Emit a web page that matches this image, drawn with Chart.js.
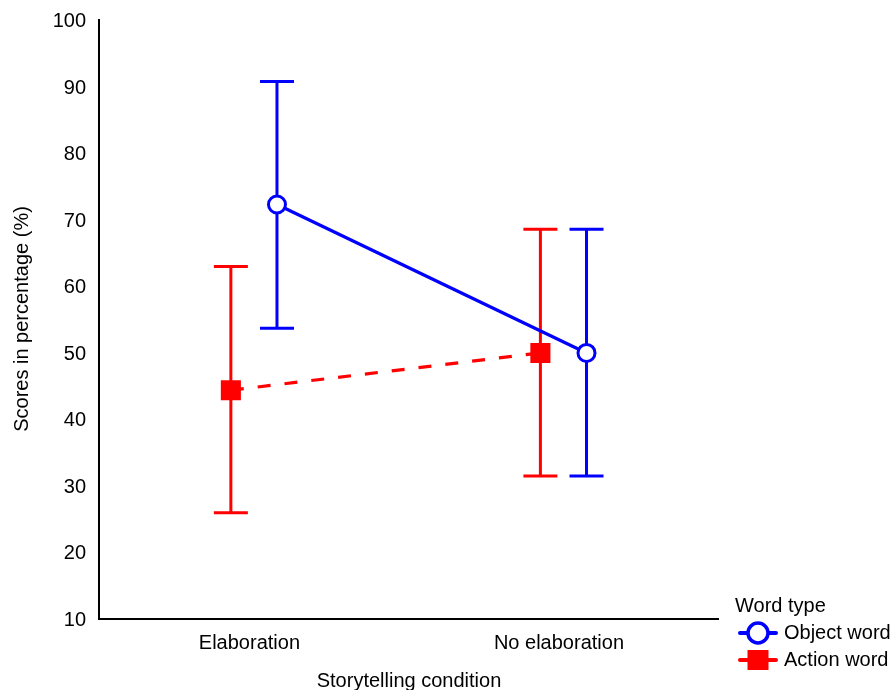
<!DOCTYPE html>
<html><head><meta charset="utf-8">
<script src="https://cdn.jsdelivr.net/npm/chart.js@4.4.1/dist/chart.umd.min.js"></script>
<style>html,body{margin:0;padding:0;background:#fff;}#wrap{width:893px;height:690px;}</style>
</head><body><div id="wrap"><canvas id="c" width="893" height="690"></canvas></div>
<script>
// ---- data ----
const categories = ['Elaboration', 'No elaboration'];
const seriesNames = ['Object word', 'Action word'];
const objectMean = [72.2, 49.9];
const objectLow  = [53.6, 31.4];
const objectHigh = [90.7, 68.5];
const actionMean = [44.3, 49.9];
const actionLow  = [25.9, 31.4];
const actionHigh = [62.9, 68.5];
const yTickValues = [10, 20, 30, 40, 50, 60, 70, 80, 90, 100];
const xAxisTitle = 'Storytelling condition';
const yAxisTitle = 'Scores in percentage (%)';
const legendTitle = 'Word type';

// ---- style ----
const BLUE = '#0000FF', RED = '#FF0000';
const DODGE = [0.089, -0.06];
Chart.defaults.font.family = '"Liberation Sans", Arial, sans-serif';
Chart.defaults.font.size = 20;
Chart.defaults.color = '#000';

function toPoints(means, dodge) {
  return means.map((v, i) => ({ x: i + 1 + dodge, y: v }));
}

function makeSymbol(kind) {
  const c = document.createElement('canvas');
  c.width = 40; c.height = 26;
  const g = c.getContext('2d');
  if (kind === 'circle') {
    g.strokeStyle = BLUE; g.lineWidth = 4; g.lineCap = 'round';
    g.beginPath(); g.moveTo(2, 13); g.lineTo(38, 13); g.stroke();
    g.beginPath(); g.arc(20, 13, 10, 0, Math.PI * 2);
    g.fillStyle = '#fff'; g.fill(); g.lineWidth = 3.5; g.stroke();
  } else {
    g.strokeStyle = RED; g.lineWidth = 4; g.lineCap = 'round';
    g.beginPath(); g.moveTo(2, 13); g.lineTo(38, 13); g.stroke();
    g.fillStyle = RED; g.fillRect(9.5, 3, 21, 20);
  }
  return c;
}
const symbols = [makeSymbol('circle'), makeSymbol('rect')];

const errorSets = [
  { low: objectLow, high: objectHigh, dodge: DODGE[0], color: BLUE },
  { low: actionLow, high: actionHigh, dodge: DODGE[1], color: RED }
];

const errorBars = {
  id: 'errorBars',
  beforeDatasetsDraw(chart) {
    const { ctx, scales: { x, y } } = chart;
    ctx.save();
    ctx.lineWidth = 3;
    errorSets.forEach(s => {
      ctx.strokeStyle = s.color;
      s.low.forEach((lo, i) => {
        const px = x.getPixelForValue(i + 1 + s.dodge);
        const pLo = y.getPixelForValue(lo);
        const pHi = y.getPixelForValue(s.high[i]);
        ctx.beginPath();
        ctx.moveTo(px, pLo); ctx.lineTo(px, pHi);
        ctx.moveTo(px - 17, pLo); ctx.lineTo(px + 17, pLo);
        ctx.moveTo(px - 17, pHi); ctx.lineTo(px + 17, pHi);
        ctx.stroke();
      });
    });
    ctx.restore();
  }
};

const shiftLegend = {
  id: 'shiftLegend',
  afterLayout(chart) {
    const lg = chart.legend;
    if (!lg) return;
    const dx = chart.chartArea.right + 16 - lg.left;
    const dy = -13;
    lg.left += dx; lg.right += dx; lg.top += dy; lg.bottom += dy;
  }
};

new Chart(document.getElementById('c'), {
  type: 'line',
  data: {
    datasets: [
      {
        label: seriesNames[0],
        data: toPoints(objectMean, DODGE[0]),
        borderColor: BLUE, borderWidth: 3.2,
        pointStyle: 'circle', pointRadius: 8.5, pointBorderWidth: 3,
        pointBackgroundColor: '#fff', pointBorderColor: BLUE,
        fill: false, tension: 0
      },
      {
        label: seriesNames[1],
        data: toPoints(actionMean, DODGE[1]),
        borderColor: RED, borderWidth: 3.2, borderDash: [13, 14],
        pointStyle: 'rect', pointRadius: 14.2, pointBorderWidth: 0,
        pointBackgroundColor: RED, pointBorderColor: RED,
        fill: false, tension: 0
      }
    ]
  },
  options: {
    responsive: false,
    animation: false,
    devicePixelRatio: 1,
    layout: { padding: { top: 19.5, right: 8.3, bottom: 0, left: 0 } },
    scales: {
      x: {
        type: 'linear', min: 0.514, max: 2.517,
        grid: { display: false, drawTicks: false },
        border: { display: true, color: '#000', width: 2 },
        afterBuildTicks: s => { s.ticks = categories.map((c, i) => ({ value: i + 1 })); },
        afterFit: s => { s.height = 71.5; s.paddingLeft = 0; s.paddingRight = 0; },
        ticks: {
          padding: 12.5, color: '#000', maxRotation: 0, autoSkip: false,
          font: { size: 20 },
          callback: v => categories[Math.round(v) - 1] ?? ''
        },
        title: {
          display: true, text: xAxisTitle, color: '#000',
          font: { size: 20, lineHeight: 1 }, padding: { top: 0, bottom: -1 }
        }
      },
      y: {
        min: 10, max: 100,
        grid: { display: false, drawTicks: false },
        border: { display: true, color: '#000', width: 2 },
        afterBuildTicks: s => { s.ticks = yTickValues.map(v => ({ value: v })); },
        afterFit: s => { s.width = 99; s.paddingTop = 0; s.paddingBottom = 0; },
        ticks: { padding: 13, labelOffset: 2, color: '#000', font: { size: 20 } },
        title: {
          display: true, text: yAxisTitle, color: '#000',
          font: { size: 20 }, padding: { top: 10, bottom: 0 }
        }
      }
    },
    plugins: {
      tooltip: { enabled: false },
      legend: {
        position: 'right', align: 'end',
        title: {
          display: true, text: legendTitle, color: '#000', position: 'start',
          font: { size: 20, lineHeight: 1 }, padding: 0
        },
        labels: {
          usePointStyle: true, pointStyleWidth: 32, padding: 7,
          color: '#000', font: { size: 20 },
          generateLabels: chart => chart.data.datasets.map((ds, i) => ({
            text: ds.label, pointStyle: symbols[i], datasetIndex: i,
            fillStyle: 'transparent', strokeStyle: 'transparent', lineWidth: 0,
            hidden: false, fontColor: '#000'
          }))
        }
      }
    }
  },
  plugins: [errorBars, shiftLegend]
});
</script></body></html>
